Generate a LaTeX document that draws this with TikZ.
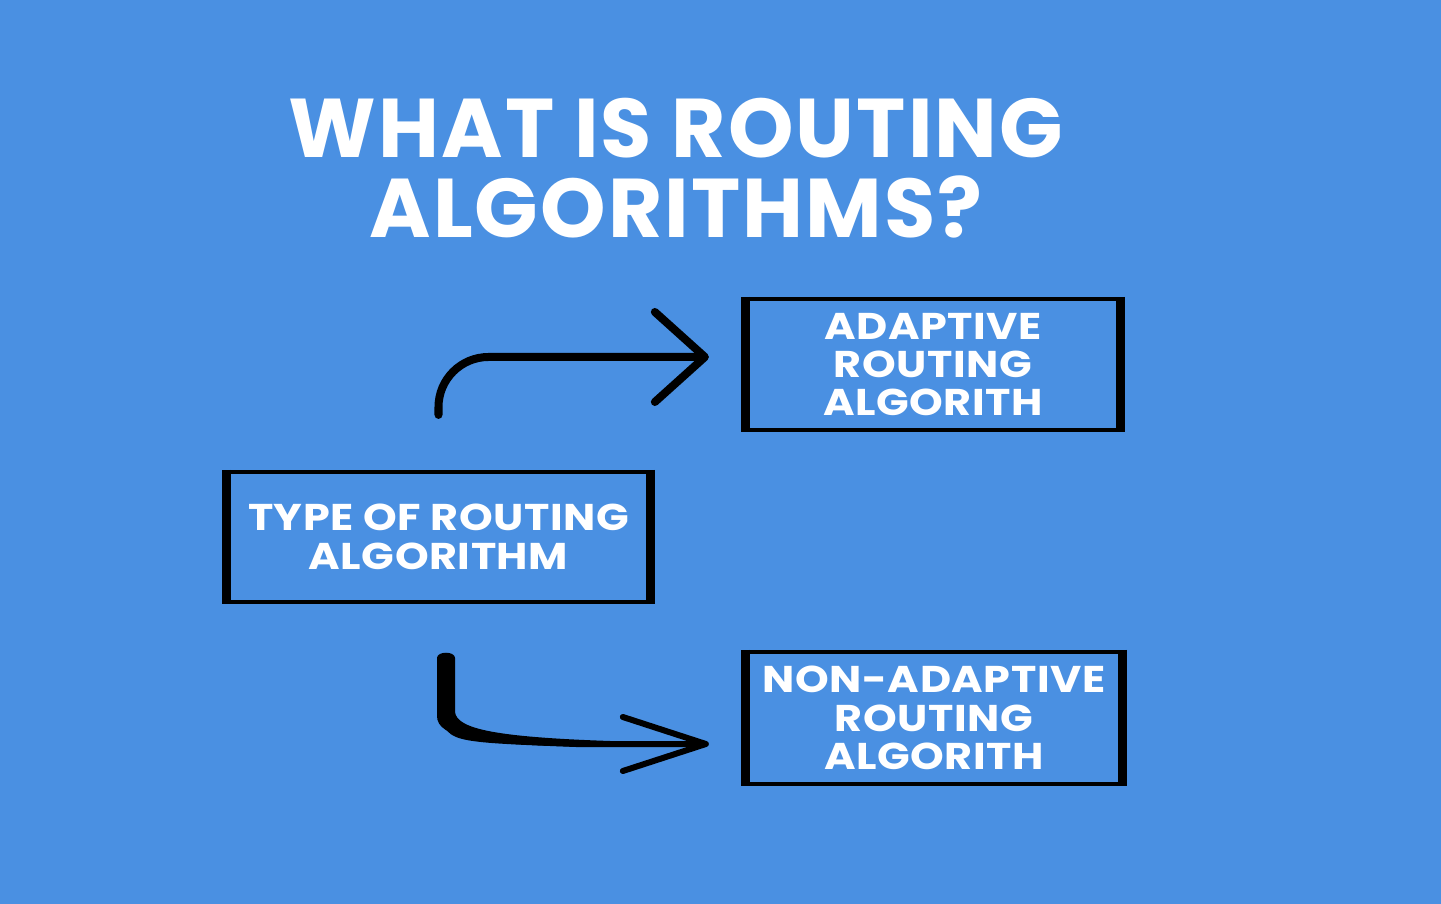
\documentclass[tikz,border=0pt]{standalone}
\usepackage{fontspec}
\setmainfont{Poppins}
\newfontfamily\titlefont{Poppins}[LetterSpace=2.5]
\newfontfamily\boxfont{Poppins}[FakeStretch=1.15,LetterSpace=1.5]
\usepackage{xcolor}
\usetikzlibrary{arrows.meta}

\definecolor{bgblue}{RGB}{74,144,226}

\begin{document}
\begin{tikzpicture}[
    x=0.01cm, y=-0.01cm,
    titletext/.style={
        align=center,
        text=white,
        inner sep=0pt,
        font=\titlefont\bfseries\fontsize{23.7}{22.8}\selectfont
    },
    box/.style={
        rectangle,
        draw=black,
        line width=0.04cm,
        fill=bgblue,
        inner sep=0pt,
        align=center,
        text=white,
        font=\boxfont\bfseries\fontsize{10.6}{10.9}\selectfont
    },
    sidebar/.style={black, line width=0.085cm},
    arrow/.style={
        black,
        line width=0.08cm,
        line cap=round,
        rounded corners=0.5cm,
        -{Straight Barb[length=0.5cm,width=0.9cm,round]}
    },
    brush/.style={
        black,
        line width=0.06cm,
        -{Straight Barb[length=0.83cm,width=0.54cm,round]}
    }
]

% Background
\fill[bgblue] (0,0) rectangle (1441,904);
\useasboundingbox (0,0) rectangle (1441,904);

% Title
\node[titletext] (title) at (676,168) {
WHAT IS ROUTING\\
ALGORITHMS?
};

% Boxes
\node[box, minimum width=4.25cm, minimum height=1.30cm] (type) at (438.5,537) {
TYPE OF ROUTING\\
ALGORITHM
};

\node[box, minimum width=3.76cm, minimum height=1.31cm] (adapt) at (933,364.5) {
ADAPTIVE\\
ROUTING\\
ALGORITH
};

\node[box, minimum width=3.78cm, minimum height=1.32cm] (nonad) at (934,718) {
NON-ADAPTIVE\\
ROUTING\\
ALGORITH
};

% Thick left and right edges
\foreach \b in {type,adapt,nonad} {
    \draw[sidebar] ([xshift=0.025cm]\b.north west) -- ([xshift=0.025cm]\b.south west);
    \draw[sidebar] ([xshift=-0.025cm]\b.north east) -- ([xshift=-0.025cm]\b.south east);
}

% Arrows
\coordinate (ain) at ([yshift=0.075cm]adapt.west);
\coordinate (nin) at ([yshift=-0.26cm]nonad.west);
\coordinate (nout) at ([xshift=0.075cm]type.south);
\coordinate (nbend) at (nout |- nin);

\draw[arrow, shorten <=0.55cm, shorten >=0.34cm] (type.north) |- (ain);
\draw[brush, shorten <=0.55cm, shorten >=0.34cm] (nout) -- ([yshift=0.35cm]nbend)
    .. controls ([yshift=0.05cm]nbend) .. ([xshift=1.3cm]nbend) -- (nin);

% brush stroke of the lower arrow
\fill[black] (437,658) .. controls (437,651) and (455,651) .. (455,658) -- (455,712)
    .. controls (457,728) and (490,737) .. (610,741) -- (610,747)
    .. controls (480,746) and (437,738) .. (437,716) -- cycle;

\end{tikzpicture}
\end{document}
